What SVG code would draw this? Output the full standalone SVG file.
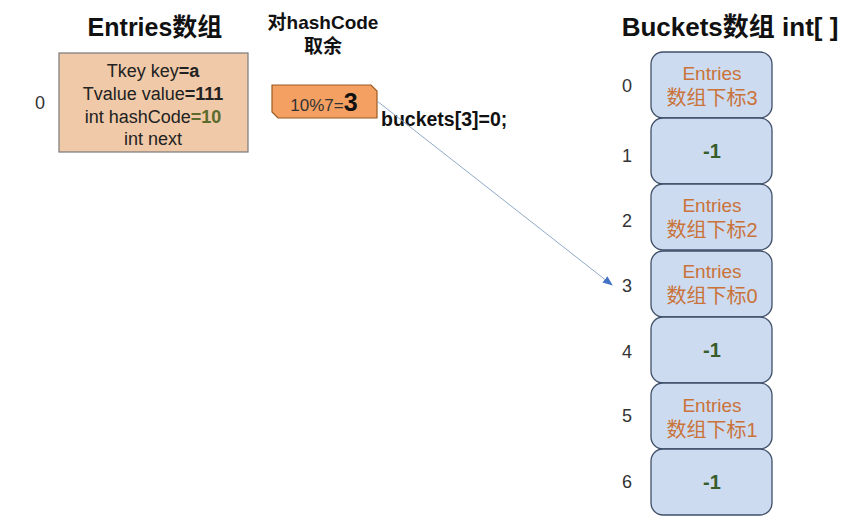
<svg xmlns="http://www.w3.org/2000/svg" width="848" height="521" viewBox="0 0 848 521">
<style>
text{font-family:"Liberation Sans","Noto Sans CJK SC",sans-serif;}
.title{font-size:25px;font-weight:bold;fill:#111;}
.sub{font-size:19px;font-weight:bold;fill:#111;}
.idx{font-size:18px;fill:#333;}
.ent{font-size:18px;fill:#222;}
.b{font-weight:bold;}
.bucket{fill:#CDDBF0;stroke:#3F4F68;stroke-width:1.3;}
.bt{font-size:19px;fill:#C9733A;}
.bc{font-size:20px;fill:#C9733A;}
.neg{font-size:20px;font-weight:bold;fill:#385C2B;}
</style>
<defs>
<marker id="arr" markerWidth="10" markerHeight="8" refX="9" refY="4" orient="auto" markerUnits="userSpaceOnUse">
<path d="M0,0 L10,4 L0,8 Z" fill="#4472C4"/>
</marker>
</defs>
<rect width="848" height="521" fill="#fff"/>
<text class="title" x="155" y="36" text-anchor="middle">Entries数组</text>
<text class="sub" x="323" y="29" text-anchor="middle">对hashCode</text>
<text class="sub" x="323" y="53" text-anchor="middle">取余</text>
<text class="title" x="730" y="36" text-anchor="middle" style="font-size:26px">Buckets数组 int[ ]</text>

<g id="entry0">
<text class="idx" x="40" y="109" text-anchor="middle">0</text>
<rect x="59" y="53" width="189" height="99" fill="#F0C9A8" stroke="#7A7A7A" stroke-width="1.2"/>
<text class="ent" x="153" y="77" text-anchor="middle">Tkey key<tspan class="b">=a</tspan></text>
<text class="ent" x="153" y="100" text-anchor="middle">Tvalue value<tspan class="b">=111</tspan></text>
<text class="ent" x="153" y="123" text-anchor="middle">int hashCode<tspan class="b" fill="#5B6B2E">=10</tspan></text>
<text class="ent" x="153" y="145" text-anchor="middle">int next</text>
</g>

<g id="mod">
<path d="M272,85 L371,85 L377,91 L377,118 L278,118 L272,112 Z" fill="#F4A062" stroke="#9A5A20" stroke-width="1.2"/>
<text x="324" y="111" text-anchor="middle" style="font-size:17px;fill:#333">10%7=<tspan style="font-size:25px;font-weight:bold;fill:#111">3</tspan></text>
</g>

<g id="label">
<text x="381" y="126" style="font-size:19.5px;font-weight:bold;fill:#111">buckets[3]=0;</text>
</g>

<g id="connectors">
<line x1="377" y1="101" x2="612" y2="285" stroke="#8FA9C6" stroke-width="1" marker-end="url(#arr)"/>
</g>

<g id="bucket0">
<text class="idx" x="627" y="92" text-anchor="middle">0</text>
<rect class="bucket" x="651" y="52" width="121" height="66" rx="12"/>
<text class="bt" x="712" y="80" text-anchor="middle">Entries</text>
<text class="bc" x="712" y="105" text-anchor="middle">数组下标3</text>
</g>
<g id="bucket1">
<text class="idx" x="627" y="162" text-anchor="middle">1</text>
<rect class="bucket" x="651" y="118" width="121" height="66" rx="12"/>
<text class="neg" x="712" y="158" text-anchor="middle">-1</text>
</g>
<g id="bucket2">
<text class="idx" x="627" y="227" text-anchor="middle">2</text>
<rect class="bucket" x="651" y="184" width="121" height="66" rx="12"/>
<text class="bt" x="712" y="212" text-anchor="middle">Entries</text>
<text class="bc" x="712" y="237" text-anchor="middle">数组下标2</text>
</g>
<g id="bucket3">
<text class="idx" x="627" y="292" text-anchor="middle">3</text>
<rect class="bucket" x="651" y="251" width="121" height="66" rx="12"/>
<text class="bt" x="712" y="278" text-anchor="middle">Entries</text>
<text class="bc" x="712" y="303" text-anchor="middle">数组下标0</text>
</g>
<g id="bucket4">
<text class="idx" x="627" y="358" text-anchor="middle">4</text>
<rect class="bucket" x="651" y="317" width="121" height="66" rx="12"/>
<text class="neg" x="712" y="357" text-anchor="middle">-1</text>
</g>
<g id="bucket5">
<text class="idx" x="627" y="422" text-anchor="middle">5</text>
<rect class="bucket" x="651" y="383" width="121" height="66" rx="12"/>
<text class="bt" x="712" y="412" text-anchor="middle">Entries</text>
<text class="bc" x="712" y="437" text-anchor="middle">数组下标1</text>
</g>
<g id="bucket6">
<text class="idx" x="627" y="488" text-anchor="middle">6</text>
<rect class="bucket" x="651" y="449" width="121" height="66" rx="12"/>
<text class="neg" x="712" y="489" text-anchor="middle">-1</text>
</g>
</svg>
